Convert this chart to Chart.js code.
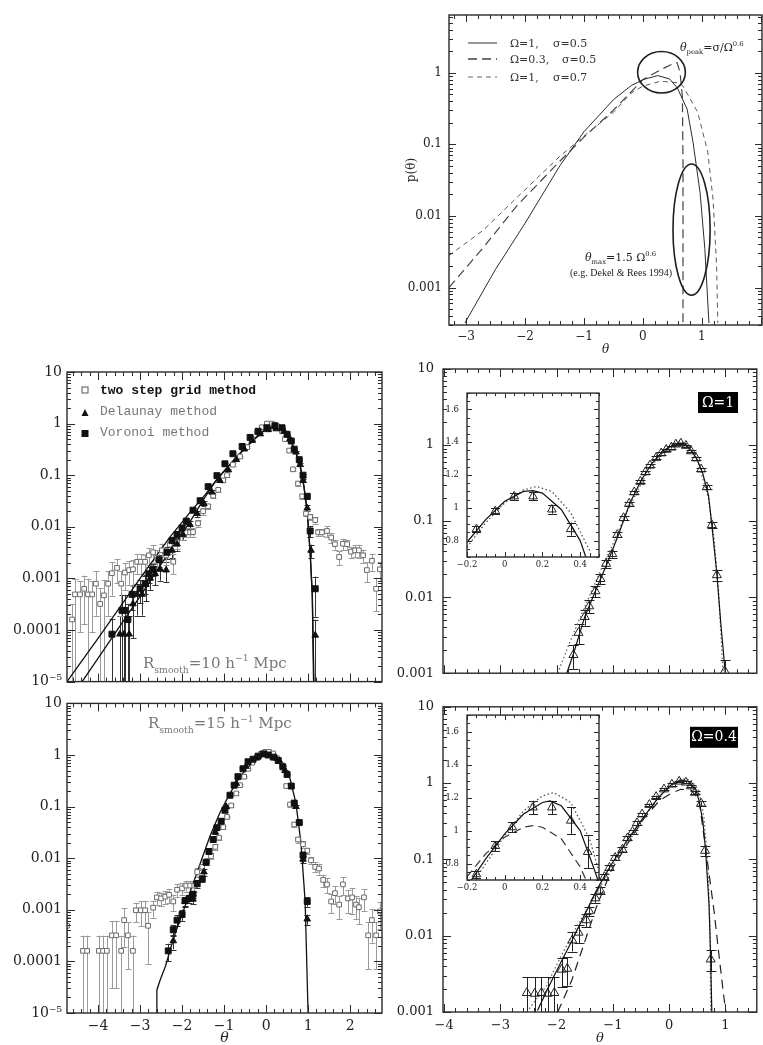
<!DOCTYPE html>
<html>
<head>
<meta charset="utf-8">
<script src="https://cdn.jsdelivr.net/npm/chart.js@4.4.1/dist/chart.umd.min.js"></script>
<style>
  body { margin: 0; background: #fff; width: 763px; height: 1045px; position: relative; overflow: hidden; }
  canvas { position: absolute; }
</style>
</head>
<body>
<canvas id="pA" width="373" height="360" style="left:390px;top:0px"></canvas>
<canvas id="pB" width="390" height="365" style="left:0px;top:330px"></canvas>
<canvas id="pC" width="390" height="355" style="left:0px;top:690px"></canvas>
<canvas id="pD" width="373" height="360" style="left:390px;top:330px"></canvas>
<canvas id="iD" width="165" height="195" style="left:440px;top:380px"></canvas>
<canvas id="pE" width="373" height="355" style="left:390px;top:690px"></canvas>
<canvas id="iE" width="165" height="195" style="left:440px;top:702px"></canvas>
<script>
// ---- top right: model curves p(theta)
const thetaSolidA = [-3.02,-2.5,-2.0,-1.41,-1.0,-0.5,-0.2,0.0,0.25,0.45,0.58,0.75,0.85,0.97,1.05,1.12];
const pSolidA = [3.2e-4,1.8e-3,7.9e-3,0.05,0.15,0.42,0.66,0.8,0.91,0.82,0.62,0.31,0.107,0.021,3.5e-3,3.2e-4];
const thetaLongA = [-3.29,-2.71,-2.14,-1.41,-1.0,-0.5,0.0,0.3,0.5,0.58,0.63,0.67,0.68,0.68];
const pLongA = [1e-3,3.6e-3,0.0138,0.058,0.126,0.3,0.8,1.1,1.32,1.38,1.0,0.45,0.05,3.2e-4];
const thetaShortA = [-3.29,-2.71,-2.14,-1.41,-1.0,-0.5,-0.2,0.0,0.3,0.6,0.68,0.93,1.1,1.19,1.25,1.27];
const pShortA = [2.8e-3,6.3e-3,0.018,0.068,0.13,0.28,0.52,0.65,0.76,0.72,0.65,0.28,0.078,0.017,2e-3,3.2e-4];
const ellipseTheta = [[-0.09, 0.72], [0.51, 1.14]];
const ellipseP = [[0.52, 1.98], [7.8e-4, 0.053]];

// ---- left top: R_smooth = 10
const gridThetaB = [-4.62,-4.55,-4.43,-4.33,-4.24,-4.14,-4.05,-3.95,-3.86,-3.76,-3.67,-3.55,-3.45,-3.36,-3.26,-3.17,-3.07,-2.98,-2.88,-2.79,-2.69,-2.6,-2.48,-2.38,-2.29,-2.21,-2.12,-2.0,-1.9,-1.81,-1.74,-1.62,-1.5,-1.38,-1.26,-1.14,-1.02,-0.93,-0.79,-0.62,-0.45,-0.33,-0.21,-0.1,0.02,0.14,0.26,0.38,0.45,0.55,0.64,0.76,0.86,0.95,1.05,1.17,1.24,1.33,1.45,1.55,1.64,1.74,1.83,1.93,2.02,2.12,2.21,2.31,2.4,2.52,2.62,2.71];
const gridPB = [1.6e-4,4.9e-4,4.9e-4,6.3e-4,4.9e-4,4.9e-4,7.9e-4,3.2e-4,4.7e-4,7.9e-4,1.26e-3,1.6e-3,7.9e-4,1.3e-3,1.45e-3,1.5e-3,2.1e-3,2.1e-3,2.1e-3,2.8e-3,3.2e-3,2.5e-3,3.5e-3,2.8e-3,4.5e-3,2.1e-3,5e-3,7.1e-3,7.8e-3,7.8e-3,7.9e-3,0.0117,0.02,0.025,0.04,0.052,0.079,0.1,0.16,0.23,0.35,0.5,0.68,0.85,1.0,1.0,0.89,0.71,0.5,0.3,0.13,0.069,0.039,0.018,0.0155,0.0135,7.8e-3,7.8e-3,8.3e-3,6.2e-3,4.6e-3,2.6e-3,4.7e-3,4.6e-3,3.3e-3,3.5e-3,3.5e-3,2.8e-3,1.45e-3,2.2e-3,6.3e-4,1.5e-3];
const gridErrB = [1.6e-4,5e-4,4e-4,5e-4,5e-4,4e-4,6e-4,3.2e-4,4.7e-4,6e-4,8e-4,8e-4,6e-4,7e-4,7e-4,8e-4,9e-4,9e-4,8e-4,1e-3,1.2e-3,1e-3,1.2e-3,1e-3,1.3e-3,9e-4,1.3e-3,1.5e-3,1.5e-3,1.5e-3,1.5e-3,2e-3,3e-3,3e-3,4e-3,4e-3,5e-3,6e-3,0.01,0.01,0.015,0.02,0.02,0.03,0.03,0.03,0.03,0.03,0.02,0.015,0.01,6e-3,4e-3,2e-3,2e-3,2e-3,1.2e-3,1.2e-3,2e-3,1.3e-3,1e-3,8e-4,1.2e-3,1e-3,8e-4,9e-4,1e-3,8e-4,6e-4,8e-4,4e-4,6e-4];
const vorThetaB = [-3.67,-3.43,-3.36,-3.29,-3.19,-3.0,-2.88,-2.79,-2.69,-2.55,-2.36,-2.24,-2.12,-2.0,-1.9,-1.74,-1.57,-1.38,-1.17,-0.98,-0.79,-0.57,-0.38,-0.19,0.02,0.21,0.38,0.5,0.6,0.67,0.79,0.88,0.98,1.05,1.17];
const vorPB = [8.3e-5,2.4e-4,2.4e-4,1.6e-4,4.9e-4,6.3e-4,7.9e-4,1.23e-3,1.5e-3,2.3e-3,3.2e-3,5.4e-3,7.1e-3,9.5e-3,0.0129,0.021,0.032,0.06,0.098,0.166,0.26,0.36,0.54,0.71,0.83,0.91,0.83,0.62,0.46,0.32,0.2,0.1,0.039,8.3e-3,6.3e-4];
const vorErrB = [8e-5,2.4e-4,2.4e-4,1.6e-4,2.5e-4,3e-4,3e-4,4e-4,4e-4,6e-4,8e-4,1e-3,1e-3,1.2e-3,1.5e-3,2e-3,3e-3,5e-3,6e-3,0.01,0.012,0.015,0.02,0.02,0.02,0.02,0.02,0.02,0.015,0.012,0.01,6e-3,4e-3,2e-3,4.5e-4];
const delThetaB = [-3.48,-3.38,-3.26,-3.17,-3.07,-2.95,-2.86,-2.76,-2.64,-2.52,-2.38,-2.24,-2.12,-1.98,-1.81,-1.64,-1.48,-1.29,-1.1,-0.9,-0.71,-0.52,-0.33,-0.14,0.05,0.24,0.43,0.57,0.71,0.81,0.88,0.98,1.07,1.17];
const delPB = [8.3e-5,8.3e-5,8.3e-5,3.2e-4,4.9e-4,4.9e-4,7.6e-4,1e-3,1.23e-3,1.5e-3,1.45e-3,3.5e-3,4.6e-3,7.1e-3,0.011,0.018,0.028,0.047,0.079,0.126,0.2,0.32,0.47,0.63,0.76,0.79,0.71,0.5,0.28,0.16,0.079,0.023,3.5e-3,7.9e-5];
const delErrB = [1e-4,1e-4,1e-4,2.5e-4,3e-4,3e-4,4e-4,4e-4,5e-4,6e-4,6e-4,1e-3,1.2e-3,1.5e-3,2e-3,2.5e-3,3e-3,4e-3,6e-3,8e-3,0.01,0.015,0.02,0.02,0.02,0.02,0.02,0.02,0.015,0.01,6e-3,3e-3,1e-3,8e-5];
const modelThetaB1 = [-4.74,-3.95,-3.0,-2.29,-1.81,-1.45,-1.21,-0.98,-0.74,-0.5,-0.26,-0.07,0.1,0.26,0.43,0.57,0.71,0.81,0.9,0.98,1.05,1.1,1.14];
const modelPB1 = [1e-5,7.9e-5,1e-3,6.3e-3,0.019,0.042,0.076,0.126,0.21,0.34,0.52,0.72,0.84,0.85,0.72,0.5,0.28,0.16,0.063,0.02,3.2e-3,5e-4,1e-5];
const modelThetaB2 = [-4.38,-3.71,-3.0,-2.29,-1.81,-1.45,-1.21,-0.98,-0.74,-0.5,-0.26,-0.07,0.1,0.26,0.43,0.57,0.71,0.81,0.9,0.98,1.05,1.1,1.13];
const modelPB2 = [1e-5,6.3e-5,4.5e-4,3.4e-3,0.0126,0.038,0.074,0.124,0.205,0.33,0.51,0.7,0.82,0.83,0.7,0.49,0.27,0.15,0.06,0.019,3e-3,4.6e-4,1e-5];

// ---- left bottom: R_smooth = 15
const gridThetaC = [-4.74,-4.36,-4.26,-3.98,-3.88,-3.79,-3.67,-3.57,-3.45,-3.38,-3.29,-3.17,-3.1,-2.98,-2.88,-2.81,-2.69,-2.6,-2.5,-2.4,-2.31,-2.21,-2.12,-2.0,-1.9,-1.81,-1.71,-1.64,-1.52,-1.4,-1.31,-1.21,-1.12,-1.02,-0.93,-0.83,-0.71,-0.62,-0.52,-0.43,-0.33,-0.21,-0.12,-0.02,0.07,0.17,0.26,0.38,0.48,0.57,0.67,0.76,0.88,0.98,1.07,1.17,1.26,1.36,1.45,1.55,1.64,1.74,1.83,1.95,2.05,2.14,2.21,2.33,2.43,2.52,2.62,2.71];
const gridPC = [4.9e-4,1.6e-4,1.6e-4,1.6e-4,1.6e-4,1.6e-4,3.2e-4,3.2e-4,1.6e-4,6.3e-4,3.2e-4,1.6e-4,9.8e-4,9.8e-4,9.8e-4,4.9e-4,1.1e-3,1.74e-3,1.66e-3,1.8e-3,1.95e-3,1.45e-3,2.45e-3,2.6e-3,2.95e-3,2.95e-3,2.95e-3,5.4e-3,6.8e-3,8.7e-3,0.011,0.0166,0.025,0.04,0.063,0.105,0.18,0.26,0.38,0.54,0.71,0.87,1.05,1.15,1.15,1.07,0.87,0.63,0.25,0.11,0.045,0.023,0.0186,0.014,9.1e-3,6.8e-3,6.3e-3,3.8e-3,3.1e-3,1.45e-3,2.1e-3,1.26e-3,3.1e-3,1.66e-3,1.74e-3,1.26e-3,1.12e-3,1.74e-3,3.2e-4,6.3e-4,3.2e-4,9.3e-4];
const gridErrC = [2.5e-4,1.55e-4,1.55e-4,1.55e-4,1.55e-4,1.55e-4,2.9e-4,2.9e-4,1.55e-4,4.4e-4,2.5e-4,1.55e-4,4e-4,5e-4,5e-4,4e-4,4e-4,5e-4,5e-4,5e-4,6e-4,5e-4,7e-4,7e-4,7e-4,7e-4,7e-4,1e-3,1e-3,1.2e-3,1.5e-3,2e-3,2.5e-3,3e-3,4e-3,6e-3,0.01,0.012,0.015,0.02,0.02,0.03,0.03,0.03,0.03,0.03,0.03,0.02,0.015,0.01,5e-3,3e-3,2.5e-3,2e-3,1.5e-3,1.5e-3,1.5e-3,1e-3,1e-3,6e-4,8e-4,6e-4,1.2e-3,8e-4,9e-4,6e-4,6e-4,8e-4,2.5e-4,4e-4,2.5e-4,5e-4];
const vorThetaC = [-2.33,-2.21,-2.12,-2.0,-1.93,-1.83,-1.74,-1.64,-1.52,-1.43,-1.36,-1.26,-1.17,-1.07,-0.98,-0.86,-0.76,-0.67,-0.55,-0.43,-0.31,-0.19,-0.07,0.05,0.17,0.29,0.4,0.5,0.6,0.67,0.79,0.88,0.98];
const vorPC = [1.6e-4,4.1e-4,6.3e-4,8.1e-4,1.5e-3,1.66e-3,2e-3,3.2e-3,4e-3,8.3e-3,0.0135,0.023,0.039,0.052,0.085,0.166,0.26,0.38,0.54,0.74,0.83,0.95,1.05,1.0,0.91,0.78,0.59,0.42,0.25,0.117,0.049,0.0115,1.45e-3];
const vorErrC = [6e-5,1e-4,1.5e-4,2e-4,3e-4,3e-4,3e-4,5e-4,6e-4,1e-3,1.5e-3,2e-3,3e-3,4e-3,5e-3,8e-3,0.01,0.015,0.02,0.02,0.02,0.02,0.02,0.02,0.02,0.02,0.02,0.015,0.01,6e-3,4e-3,1.5e-3,3e-4];
const delThetaC = [-2.21,-1.93,-1.74,-1.48,-1.21,-0.95,-0.71,-0.48,-0.24,0.0,0.24,0.45,0.71,0.88,0.98];
const delPC = [2.5e-4,1.45e-3,1.6e-3,5.4e-3,0.032,0.1,0.28,0.6,0.89,1.02,0.87,0.5,0.1,9.5e-3,6.6e-4];
const delErrC = [8e-5,3e-4,3e-4,8e-4,3e-3,6e-3,0.012,0.02,0.02,0.02,0.02,0.02,6e-3,1.5e-3,1.5e-4];
const modelThetaC = [-2.6,-2.6,-2.52,-2.4,-2.29,-2.17,-2.0,-1.81,-1.57,-1.33,-1.1,-0.86,-0.62,-0.38,-0.19,0.0,0.19,0.38,0.57,0.71,0.83,0.93,1.0];
const modelPC = [1e-5,2.8e-5,4.4e-5,7.9e-5,1.6e-4,3.4e-4,8.1e-4,2.2e-3,7.8e-3,0.0275,0.076,0.18,0.38,0.65,0.87,1.05,1.0,0.74,0.35,0.117,0.02,1.45e-3,1e-5];

// ---- right middle: Omega = 1
const triThetaD = [-1.70,-1.61,-1.50,-1.42,-1.31,-1.22,-1.12,-1.01,-0.92,-0.81,-0.71,-0.62,-0.51,-0.42,-0.34,-0.23,-0.14,-0.05,0.04,0.12,0.21,0.3,0.39,0.48,0.57,0.67,0.76,0.85,0.99];
const triPD = [1.74e-3,3.4e-3,5.5e-3,7.6e-3,0.012,0.0174,0.0275,0.037,0.066,0.11,0.17,0.24,0.33,0.44,0.54,0.68,0.78,0.87,0.93,1.02,1.05,0.98,0.83,0.67,0.48,0.28,0.089,0.0195,1.07e-3];
const triErrD = [6e-4,1e-3,1.3e-3,1.5e-3,2e-3,2.5e-3,3e-3,4e-3,5e-3,8e-3,0.01,0.012,0.015,0.02,0.02,0.03,0.03,0.03,0.03,0.03,0.03,0.03,0.03,0.03,0.02,0.015,8e-3,3e-3,4e-4];
const modelThetaD = [-1.82,-1.7,-1.5,-1.3,-1.1,-0.9,-0.7,-0.5,-0.3,-0.1,0.1,0.2,0.3,0.4,0.5,0.6,0.7,0.76,0.85,0.92,1.0];
const modelPD = [1e-3,1.8e-3,5.5e-3,0.0125,0.028,0.066,0.17,0.34,0.58,0.85,1.02,1.06,1.0,0.84,0.64,0.42,0.22,0.09,0.02,4.5e-3,1e-3];
const dotThetaD = [-1.98,-1.8,-1.6,-1.4,-1.2,-1.0,-0.8,-0.6,-0.4,-0.2,0.0,0.15,0.3,0.5,0.7,0.8,0.88,0.96];
const dotPD = [1e-3,2.2e-3,5e-3,0.011,0.024,0.05,0.11,0.22,0.42,0.68,0.95,1.1,1.05,0.66,0.2,0.06,0.012,1e-3];
const insetThetaD = [-0.15,-0.05,0.05,0.15,0.25,0.35];
const insetPD = [0.87,0.98,1.07,1.07,0.99,0.87];
const insetErrD = [0.02,0.02,0.02,0.025,0.025,0.04];
const insetModelThetaD = [-0.2,-0.1,0.0,0.1,0.15,0.2,0.3,0.4,0.43];
const insetModelPD = [0.79,0.93,1.04,1.1,1.105,1.09,0.99,0.8,0.7];
const insetDotThetaD = [-0.2,-0.1,0.0,0.1,0.17,0.25,0.35,0.45,0.46];
const insetDotPD = [0.76,0.91,1.03,1.11,1.13,1.1,0.97,0.74,0.7];

// ---- right bottom: Omega = 0.4
const triThetaE = [-2.53,-2.39,-2.27,-2.16,-2.04,-1.91,-1.81,-1.72,-1.61,-1.47,-1.42,-1.31,-1.22,-1.15,-1.06,-0.96,-0.83,-0.74,-0.65,-0.57,-0.48,-0.35,-0.23,-0.09,0.05,0.18,0.3,0.39,0.46,0.57,0.64,0.74];
const triPE = [1.78e-3,1.74e-3,1.78e-3,1.74e-3,1.78e-3,3.6e-3,3.7e-3,8.7e-3,0.011,0.016,0.021,0.031,0.039,0.059,0.078,0.105,0.135,0.19,0.23,0.3,0.39,0.52,0.66,0.83,0.96,1.05,1.02,0.91,0.75,0.54,0.13,4.9e-3];
const triErrE = [1.1e-3,1.1e-3,1.1e-3,1.1e-3,1.1e-3,1.5e-3,1.5e-3,2.5e-3,3e-3,3e-3,3e-3,4e-3,4e-3,5e-3,6e-3,8e-3,0.01,0.012,0.012,0.015,0.015,0.02,0.025,0.03,0.03,0.03,0.03,0.03,0.04,0.04,0.02,1.5e-3];
const modelThetaE = [-2.34,-2.16,-1.95,-1.73,-1.5,-1.27,-1.03,-0.74,-0.44,-0.18,0.04,0.21,0.35,0.48,0.53,0.6,0.65,0.71,0.74,0.76];
const modelPE = [1.05e-3,2e-3,4.1e-3,8.5e-3,0.019,0.042,0.085,0.18,0.37,0.66,0.95,1.1,1.05,0.8,0.6,0.32,0.13,0.026,5e-3,1e-3];
const dotThetaE = [-2.53,-2.18,-1.95,-1.65,-1.33,-1.03,-0.74,-0.44,-0.18,0.04,0.21,0.39,0.53,0.62,0.69,0.73,0.74];
const dotPE = [1e-3,2.2e-3,4.9e-3,0.0129,0.032,0.078,0.17,0.36,0.66,0.93,1.15,1.1,0.8,0.36,0.085,0.011,1e-3];
const dashThetaE = [-1.98,-1.73,-1.54,-1.29,-1.03,-0.74,-0.44,-0.18,0.04,0.21,0.39,0.53,0.65,0.8,0.88,0.97,1.01];
const dashPE = [1e-3,2.6e-3,6.8e-3,0.024,0.071,0.16,0.35,0.58,0.74,0.83,0.81,0.62,0.14,0.021,6.2e-3,1.66e-3,1e-3];
const insetThetaE = [-0.15,-0.05,0.04,0.15,0.25,0.35,0.44];
const insetPE = [0.735,0.906,1.02,1.14,1.14,1.06,0.87];
const insetErrE = [0.02,0.03,0.03,0.04,0.04,0.08,0.1];
const insetModelThetaE = [-0.2,-0.1,0.0,0.1,0.2,0.24,0.3,0.4,0.47,0.5];
const insetModelPE = [0.66,0.83,0.98,1.1,1.17,1.18,1.15,1.0,0.78,0.68];
const insetDotThetaE = [-0.2,-0.1,0.0,0.1,0.2,0.26,0.35,0.45,0.5];
const insetDotPE = [0.63,0.8,0.97,1.12,1.21,1.23,1.17,0.95,0.75];
const insetDashThetaE = [-0.2,-0.1,0.0,0.1,0.15,0.2,0.3,0.4,0.47];
const insetDashPE = [0.72,0.86,0.96,1.02,1.03,1.02,0.95,0.78,0.6];

// tick label values
const thetaTicksA = [-3, -2, -1, 0, 1];
const thetaTicksLeft = [-4, -3, -2, -1, 0, 1, 2];
const thetaTicksRight = [-4, -3, -2, -1, 0, 1];
const pTicksA = [0.001, 0.01, 0.1, 1];
const pTicksLeft = [1e-5, 1e-4, 0.001, 0.01, 0.1, 1, 10];
const pTicksRight = [0.001, 0.01, 0.1, 1, 10];
const insetXTicks = [-0.2, 0, 0.2, 0.4];
const insetYTicks = [0.8, 1, 1.2, 1.4, 1.6];

const SERIF = "'DejaVu Serif', serif";
const PANELS = {};

function pts(xs, ys) { return xs.map((x, i) => ({ x: x, y: ys[i] })); }

function tickList(min, max, minor, major) {
  const out = [];
  const k0 = Math.ceil(min / minor - 1e-6), k1 = Math.floor(max / minor + 1e-6);
  for (let k = k0; k <= k1; k++) {
    const v = k * minor, r = v / major;
    out.push({ v: v, major: Math.abs(r - Math.round(r)) < 1e-6 });
  }
  return out;
}
function logTickList(min, max) {
  const out = [];
  for (let e = Math.floor(Math.log10(min)); e <= Math.ceil(Math.log10(max)); e++) {
    for (let m = 1; m < 10; m++) {
      const v = m * Math.pow(10, e);
      if (v >= min * 0.999 && v <= max * 1.001) out.push({ v: v, major: m === 1 });
    }
  }
  return out;
}
function fmtLin(v) { return v < 0 ? '\u2212' + Math.abs(v) : String(v); }
function fmtLog(v) { return v < 2e-5 ? '10\u207B\u2075' : String(v); }

// rich text: segments [text, kind]
function rich(ctx, x, y, segs, size, fam, color) {
  let cx = x;
  ctx.fillStyle = color;
  ctx.textBaseline = 'alphabetic';
  ctx.textAlign = 'left';
  segs.forEach(s => {
    let fs = size, dy = 0, st = '';
    if (s[1] === 'sub') { fs = size * 0.62; dy = size * 0.3; }
    if (s[1] === 'sup') { fs = size * 0.62; dy = -size * 0.45; }
    if (s[1] === 'it') st = 'italic ';
    if (s[1] === 'b') st = 'bold ';
    ctx.font = st + fs + 'px ' + fam;
    ctx.fillText(s[0], cx, y + dy);
    cx += ctx.measureText(s[0]).width;
  });
}

const errPlugin = {
  id: 'errbars',
  beforeDatasetsDraw(chart) {
    const { ctx, chartArea: a, scales } = chart;
    const y = scales.y;
    ctx.save();
    ctx.beginPath();
    ctx.rect(a.left, a.top, a.right - a.left, a.bottom - a.top);
    ctx.clip();
    chart.data.datasets.forEach((ds, i) => {
      if (!ds.errs) return;
      const meta = chart.getDatasetMeta(i);
      ctx.strokeStyle = ds.errColor;
      ctx.lineWidth = 1;
      ctx.beginPath();
      meta.data.forEach((el, j) => {
        const v = ds.data[j].y, e = ds.errs[j];
        if (!e) return;
        const top = y.getPixelForValue(v + e);
        const low = v - e;
        const bot = (y.type === 'logarithmic' && low <= y.min) ? a.bottom + 2 : y.getPixelForValue(low);
        const x = Math.round(el.x) + 0.5, w = ds.capW / 2;
        ctx.moveTo(x, top); ctx.lineTo(x, bot);
        ctx.moveTo(x - w, Math.round(top) + 0.5); ctx.lineTo(x + w, Math.round(top) + 0.5);
        if (bot < a.bottom) { ctx.moveTo(x - w, Math.round(bot) + 0.5); ctx.lineTo(x + w, Math.round(bot) + 0.5); }
      });
      ctx.stroke();
    });
    ctx.restore();
  }
};

const framePlugin = {
  id: 'frame',
  beforeDraw(chart) {
    const cfg = PANELS[chart.canvas.id];
    if (!cfg.opaque) return;
    const a = chart.chartArea, ctx = chart.ctx;
    ctx.save();
    ctx.fillStyle = '#fff';
    ctx.fillRect(a.left, a.top, a.right - a.left, a.bottom - a.top);
    ctx.restore();
  },
  afterDraw(chart) {
    const cfg = PANELS[chart.canvas.id];
    const { ctx, chartArea: a, scales } = chart;
    const sx = scales.x, sy = scales.y;
    ctx.save();
    ctx.strokeStyle = '#2a2a2a';
    ctx.lineWidth = 1;
    ctx.beginPath();
    tickList(sx.min, sx.max, cfg.xMinor, cfg.xMajor).forEach(t => {
      const p = Math.round(sx.getPixelForValue(t.v)) + 0.5;
      const L = t.major ? cfg.tMaj : cfg.tMin;
      ctx.moveTo(p, a.bottom); ctx.lineTo(p, a.bottom - L);
      ctx.moveTo(p, a.top); ctx.lineTo(p, a.top + L);
    });
    const yt = cfg.logY ? logTickList(sy.min, sy.max) : tickList(sy.min, sy.max, cfg.yMinor, cfg.yMajor);
    yt.forEach(t => {
      const p = Math.round(sy.getPixelForValue(t.v)) + 0.5;
      const L = t.major ? cfg.tMaj : cfg.tMin;
      ctx.moveTo(a.left, p); ctx.lineTo(a.left + L, p);
      ctx.moveTo(a.right, p); ctx.lineTo(a.right - L, p);
    });
    ctx.stroke();
    ctx.lineWidth = 1.4;
    ctx.strokeRect(a.left, a.top, a.right - a.left, a.bottom - a.top);
    ctx.restore();
  }
};

const NOTES = {
  pA(ctx, a, c) {
    // ellipses
    ctx.strokeStyle = '#1e1e1e';
    ctx.lineWidth = 1.6;
    ellipseTheta.forEach((tx, i) => {
      const x0 = c.scales.x.getPixelForValue(tx[0]), x1 = c.scales.x.getPixelForValue(tx[1]);
      const y0 = c.scales.y.getPixelForValue(ellipseP[i][0]), y1 = c.scales.y.getPixelForValue(ellipseP[i][1]);
      ctx.beginPath();
      ctx.ellipse((x0 + x1) / 2, (y0 + y1) / 2, Math.abs(x1 - x0) / 2, Math.abs(y1 - y0) / 2, 0, 0, 2 * Math.PI);
      ctx.stroke();
    });
    // legend
    const styles = [[[], '#333', 1], [[9, 5], '#444', 1.4], [[5, 4], '#666', 1]];
    const rows = [28, 44, 62];
    const left = [['\u03A9=1,', 'σ=0.5', 104], ['\u03A9=0.3,', 'σ=0.5', 113], ['\u03A9=1,', 'σ=0.7', 104]];
    rows.forEach((r, i) => {
      ctx.setLineDash(styles[i][0]);
      ctx.strokeStyle = styles[i][1];
      ctx.lineWidth = styles[i][2];
      ctx.beginPath();
      ctx.moveTo(a.left + 19, a.top + r); ctx.lineTo(a.left + 48, a.top + r);
      ctx.stroke();
      ctx.setLineDash([]);
      rich(ctx, a.left + 61, a.top + r + 4, [[left[i][0], '']], 11, SERIF, '#333');
      rich(ctx, a.left + left[i][2], a.top + r + 4, [[left[i][1], '']], 11, SERIF, '#333');
    });
    rich(ctx, a.left + 231, a.top + 36, [['θ', 'it'], ['peak', 'sub'], ['=σ/\u03A9', ''], ['0.6', 'sup']], 11, SERIF, '#222');
    rich(ctx, a.left + 136, a.top + 246, [['θ', 'it'], ['max', 'sub'], ['=1.5 \u03A9', ''], ['0.6', 'sup']], 11, SERIF, '#222');
    rich(ctx, a.left + 121, a.top + 261, [['(e.g. Dekel & Rees 1994)', '']], 10, "'Liberation Serif', serif", '#222');
  },
  pB(ctx, a) {
    const sx = a.left + 18;
    ctx.strokeStyle = '#555'; ctx.lineWidth = 1;
    ctx.strokeRect(sx - 3, a.top + 15, 6, 6);
    ctx.fillStyle = '#111';
    ctx.beginPath();
    ctx.moveTo(sx, a.top + 37); ctx.lineTo(sx + 3.5, a.top + 44); ctx.lineTo(sx - 3.5, a.top + 44); ctx.closePath();
    ctx.fill();
    ctx.fillRect(sx - 3.5, a.top + 58, 7, 7);
    const mono = "'Liberation Mono', monospace";
    rich(ctx, a.left + 33, a.top + 22, [['two step grid method', 'b']], 13, mono, '#111');
    rich(ctx, a.left + 33, a.top + 43, [['Delaunay method', '']], 13, mono, '#777');
    rich(ctx, a.left + 33, a.top + 64, [['Voronoi method', '']], 13, mono, '#777');
    rich(ctx, a.left + 76, a.top + 296, [['R', ''], ['smooth', 'sub'], ['=10 h', ''], ['\u22121', 'sup'], [' Mpc', '']], 15, SERIF, '#777');
  },
  pC(ctx, a) {
    rich(ctx, a.left + 81, a.top + 25, [['R', ''], ['smooth', 'sub'], ['=15 h', ''], ['\u22121', 'sup'], [' Mpc', '']], 15, SERIF, '#777');
  },
  pD(ctx, a) {
    ctx.fillStyle = '#000';
    ctx.fillRect(a.left + 255, a.top + 23, 40, 21);
    ctx.fillStyle = '#fff';
    ctx.font = '14px ' + SERIF;
    ctx.textAlign = 'center'; ctx.textBaseline = 'middle';
    ctx.fillText('\u03A9=1', a.left + 275, a.top + 34);
  },
  pE(ctx, a) {
    ctx.fillStyle = '#000';
    ctx.fillRect(a.left + 247, a.top + 20, 48, 21);
    ctx.fillStyle = '#fff';
    ctx.font = '14px ' + SERIF;
    ctx.textAlign = 'center'; ctx.textBaseline = 'middle';
    ctx.fillText('\u03A9=0.4', a.left + 271, a.top + 31);
  }
};

const notesPlugin = {
  id: 'notes',
  afterDraw(chart) {
    const f = NOTES[chart.canvas.id];
    if (!f) return;
    chart.ctx.save();
    f(chart.ctx, chart.chartArea, chart);
    chart.ctx.restore();
  }
};

function panel(id, datasets, cfg) {
  PANELS[id] = cfg;
  return new Chart(document.getElementById(id), {
    type: 'scatter',
    data: { datasets: datasets },
    options: {
      responsive: false,
      animation: false,
      devicePixelRatio: 1,
      events: [],
      layout: { padding: { left: 0, top: cfg.pt, right: cfg.pr, bottom: 0 } },
      plugins: { legend: { display: false }, tooltip: { enabled: false } },
      scales: {
        x: {
          type: 'linear', min: cfg.xmin, max: cfg.xmax,
          grid: { display: false, drawTicks: false }, border: { display: false },
          afterBuildTicks: s => { s.ticks = cfg.xTicks.map(v => ({ value: v })); },
          afterFit: s => { s.height = cfg.xH; },
          ticks: { display: !!cfg.xLabels, autoSkip: false, maxRotation: 0, padding: cfg.xPad,
                   color: '#222', font: { family: SERIF, size: cfg.fs }, callback: v => fmtLin(v) },
          title: cfg.xTitle ? { display: true, text: cfg.xTitle, color: '#222',
                   font: { family: SERIF, size: cfg.fs, style: 'italic', lineHeight: 1 },
                   padding: { top: 0, bottom: cfg.xTitlePad } } : { display: false }
        },
        y: {
          type: cfg.logY ? 'logarithmic' : 'linear', min: cfg.ymin, max: cfg.ymax,
          grid: { display: false, drawTicks: false }, border: { display: false },
          afterBuildTicks: s => { s.ticks = cfg.yTicks.map(v => ({ value: v })); },
          afterFit: s => { s.width = cfg.yW; },
          ticks: { autoSkip: false, padding: cfg.yPad, color: '#222',
                   font: { family: SERIF, size: cfg.fs },
                   callback: v => cfg.logY ? fmtLog(v) : fmtLin(v) },
          title: cfg.yTitle ? { display: true, text: cfg.yTitle, color: '#222',
                   font: { family: SERIF, size: cfg.fs }, padding: { top: cfg.yTitlePad, bottom: 0 } } : { display: false }
        }
      }
    },
    plugins: [errPlugin, framePlugin, notesPlugin]
  });
}

function lineSet(xs, ys, color, width, dash) {
  return { data: pts(xs, ys), showLine: true, pointRadius: 0, borderColor: color,
           borderWidth: width, borderDash: dash || [], fill: false, tension: 0 };
}
function markSet(xs, ys, errs, style, r, fill, stroke, errColor, capW) {
  return { data: pts(xs, ys), showLine: false, pointStyle: style, pointRadius: r,
           backgroundColor: fill, borderColor: stroke, borderWidth: 1,
           errs: errs, errColor: errColor, capW: capW };
}

// ---- top right
panel('pA', [
  lineSet(thetaSolidA, pSolidA, '#2b2b2b', 1),
  lineSet(thetaLongA, pLongA, '#444', 1.2, [9, 5]),
  lineSet(thetaShortA, pShortA, '#5a5a5a', 1, [5, 4])
], { pt: 15, pr: 1, yW: 59, xH: 35, xmin: -3.29, xmax: 2.02, ymin: 3.16e-4, ymax: 6.39, logY: true,
     xTicks: thetaTicksA, yTicks: pTicksA, xLabels: true, fs: 12, xPad: 5, yPad: 7,
     xTitle: 'θ', xTitlePad: 4, yTitle: 'p(θ)', yTitlePad: 15,
     xMinor: 0.2, xMajor: 1, tMaj: 7, tMin: 4 });

// ---- left panels
panel('pB', [
  markSet(vorThetaB, vorPB, vorErrB, 'rect', 4.2, '#111', '#111', '#333', 6),
  markSet(delThetaB, delPB, delErrB, 'triangle', 3.8, '#111', '#111', '#333', 6),
  markSet(gridThetaB, gridPB, gridErrB, 'rect', 3.3, '#fff', '#6a6a6a', '#9a9a9a', 6),
  lineSet(modelThetaB1, modelPB1, '#111', 1.3),
  lineSet(modelThetaB2, modelPB2, '#111', 1.3)
], { pt: 42, pr: 8, yW: 67, xH: 8, xmin: -4.74, xmax: 2.76, ymin: 1e-5, ymax: 10, logY: true,
     xTicks: thetaTicksLeft, yTicks: pTicksLeft, xLabels: false, fs: 14, xPad: 5, yPad: 5,
     xMinor: 0.2, xMajor: 1, tMaj: 8, tMin: 4 });

panel('pC', [
  markSet(vorThetaC, vorPC, vorErrC, 'rect', 4.2, '#111', '#111', '#333', 6),
  markSet(delThetaC, delPC, delErrC, 'triangle', 3.8, '#111', '#111', '#333', 6),
  markSet(gridThetaC, gridPC, gridErrC, 'rect', 3.3, '#fff', '#6a6a6a', '#9a9a9a', 6),
  lineSet(modelThetaC, modelPC, '#111', 1.3)
], { pt: 8, pr: 8, yW: 67, xH: 32, xmin: -4.74, xmax: 2.76, ymin: 1e-5, ymax: 10, logY: true,
     xTicks: thetaTicksLeft, yTicks: pTicksLeft, xLabels: true, fs: 14, xPad: 5, yPad: 5,
     xTitle: 'θ', xTitlePad: 0,
     xMinor: 0.2, xMajor: 1, tMaj: 8, tMin: 4 });

// ---- right panels
panel('pD', [
  markSet(triThetaD, triPD, triErrD, 'triangle', 5.2, 'rgba(255,255,255,0)', '#222', '#222', 10),
  lineSet(modelThetaD, modelPD, '#111', 1.2),
  lineSet(dotThetaD, dotPD, '#666', 1.3, [1.5, 2.5])
], { pt: 39, pr: 5, yW: 53, xH: 3, xmin: -4.02, xmax: 1.56, ymin: 0.001, ymax: 10, logY: true,
     xTicks: thetaTicksRight, yTicks: pTicksRight, xLabels: false, fs: 13, xPad: 5, yPad: 9,
     xMinor: 0.2, xMajor: 1, tMaj: 8, tMin: 4 });

panel('iD', [
  markSet(insetThetaD, insetPD, insetErrD, 'triangle', 5, 'rgba(255,255,255,0)', '#222', '#222', 9),
  lineSet(insetModelThetaD, insetModelPD, '#111', 1.2),
  lineSet(insetDotThetaD, insetDotPD, '#555', 1.3, [1.5, 2.5])
], { pt: 8, pr: 6, yW: 27, xH: 18, xmin: -0.2, xmax: 0.5, ymin: 0.7, ymax: 1.7, logY: false, opaque: true,
     xTicks: insetXTicks, yTicks: insetYTicks, xLabels: true, fs: 8.5, xPad: 3, yPad: 8,
     xMinor: 0.05, xMajor: 0.2, yMinor: 0.05, yMajor: 0.2, tMaj: 5, tMin: 3 });

panel('pE', [
  markSet(triThetaE, triPE, triErrE, 'triangle', 5.2, 'rgba(255,255,255,0)', '#222', '#222', 10),
  lineSet(modelThetaE, modelPE, '#111', 1.2),
  lineSet(dotThetaE, dotPE, '#666', 1.3, [1.5, 2.5]),
  lineSet(dashThetaE, dashPE, '#222', 1.2, [9, 6])
], { pt: 7, pr: 5, yW: 53, xH: 33, xmin: -4.02, xmax: 1.56, ymin: 0.001, ymax: 10, logY: true,
     xTicks: thetaTicksRight, yTicks: pTicksRight, xLabels: true, fs: 13, xPad: 6, yPad: 9,
     xTitle: 'θ', xTitlePad: 0,
     xMinor: 0.2, xMajor: 1, tMaj: 8, tMin: 4 });

panel('iE', [
  markSet(insetThetaE, insetPE, insetErrE, 'triangle', 5, 'rgba(255,255,255,0)', '#222', '#222', 9),
  lineSet(insetModelThetaE, insetModelPE, '#111', 1.2),
  lineSet(insetDotThetaE, insetDotPE, '#555', 1.3, [1.5, 2.5]),
  lineSet(insetDashThetaE, insetDashPE, '#333', 1.2, [8, 5])
], { pt: 8, pr: 6, yW: 27, xH: 17, xmin: -0.2, xmax: 0.5, ymin: 0.7, ymax: 1.7, logY: false, opaque: true,
     xTicks: insetXTicks, yTicks: insetYTicks, xLabels: true, fs: 8.5, xPad: 3, yPad: 8,
     xMinor: 0.05, xMajor: 0.2, yMinor: 0.05, yMajor: 0.2, tMaj: 5, tMin: 3 });
</script>
</body>
</html>
